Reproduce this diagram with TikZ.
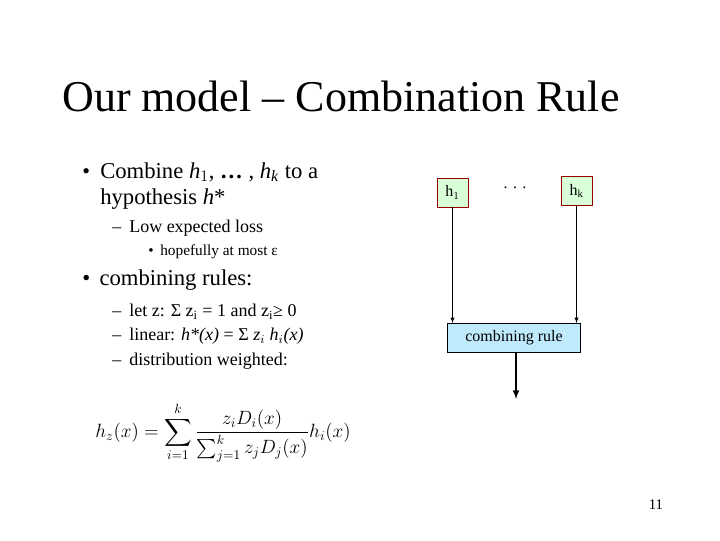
\documentclass[tikz,border=0pt]{standalone}
\usepackage{fontspec}
\setmainfont{Liberation Serif}
\usepackage{amsmath}
\usetikzlibrary{patterns}
\begin{document}
\begin{tikzpicture}[x=0.75pt,y=-0.75pt,
  hbox/.style={draw=red!60!black,fill=green!15,minimum width=23pt,minimum height=22pt,inner sep=0pt,font=\fontsize{12}{14}\selectfont},
  crbox/.style={draw=black,fill=cyan!25,minimum width=100pt,minimum height=22pt,inner sep=0pt,font=\fontsize{12}{14}\selectfont},
  txt/.style={anchor=west,inner sep=0pt,align=left},
  arr/.style={-latex}]
\useasboundingbox (0,0) rectangle (720,540);
\node[txt,font=\fontsize{33}{36}\selectfont] (title) at (62,96) {Our model -- Combination Rule};
\node[txt,font=\fontsize{16.5}{20}\selectfont] (b1) at (82,174) {•};
\node[txt,font=\fontsize{17}{20}\selectfont] (t1) at (100,186) {Combine \textit{h}$_1$, \textbf{…} , \textit{h}$_{\text{\textit{k}}}$ to a\\hypothesis \textit{h}*};
\node[txt,font=\fontsize{13.5}{16}\selectfont] (t2) at (112,228) {--\hspace{6pt}Low expected loss};
\node[txt,font=\fontsize{11.5}{14}\selectfont] (t3) at (148,252) {•\hspace{5pt}hopefully at most ε};
\node[txt,font=\fontsize{17}{20}\selectfont] (t4) at (82,280) {•\hspace{7pt}combining rules:};
\node[txt,font=\fontsize{13.5}{16}\selectfont] (t5) at (112,312) {--\hspace{6pt}let z: Σ z$_{\text{i}}$ = 1 and z$_{\text{i}}$≥ 0};
\node[txt,font=\fontsize{13.5}{16}\selectfont] (t6) at (112,336) {--\hspace{6pt}linear: \textit{h*(x)} = Σ \textit{z$_i$ h$_i$(x)}};
\node[txt,font=\fontsize{13.5}{16}\selectfont] (t7) at (112,361) {--\hspace{6pt}distribution weighted:};
\node[txt,font=\fontsize{14}{16}\selectfont] (f) at (95,432) {$h_z(x)=\displaystyle\sum_{i=1}^{k}\frac{z_iD_i(x)}{\sum_{j=1}^{k}z_jD_j(x)}h_i(x)$};
\node[hbox] (h1) at (452.5,192.5) {h$_1$};
\node[hbox] (hk) at (576.5,191) {h$_{\text{k}}$};
\node[font=\fontsize{12}{14}\selectfont] (dots) at (515,188) {. . .};
\node[crbox] (cr) at (514,338) {combining rule};
\coordinate (out) at (516,399);
\draw[arr] (h1.south) -- (h1.south |- cr.north);
\draw[arr] (hk.south) -- (hk.south |- cr.north);
\draw[arr,line width=1.2pt] (cr.south -| out) -- (out);
\node[font=\fontsize{11}{13}\selectfont] (pg) at (656,505) {11};
\end{tikzpicture}
\end{document}
